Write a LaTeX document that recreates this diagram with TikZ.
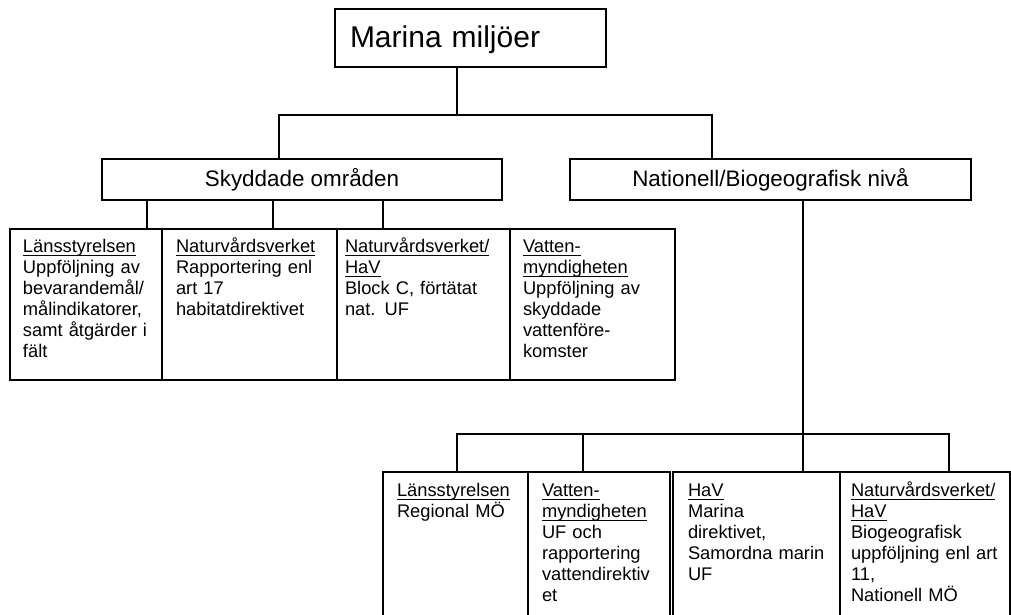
\documentclass[tikz,border=0pt]{standalone}
\usepackage{fontspec}
\setmainfont{Liberation Sans}
\usetikzlibrary{calc}
\newcommand{\boxline}{1.9pt}
\newcommand{\mainline}{2.8pt}
\newcommand{\linkline}{1.6pt}
\newcommand{\undl}[1]{\leavevmode\setbox0=\hbox{#1}\rlap{\rule[-3.5pt]{\wd0}{0.9pt}}\box0}

\begin{document}
\begin{tikzpicture}[x=1pt,y=-1pt,
  leaf/.style={draw, line width=\boxline, anchor=north west, align=left, outer sep=0pt, inner ysep=0pt, font=\fontsize{18.3pt}{21pt}\selectfont},
  level/.style={draw, line width=\mainline, outer sep=0pt, inner sep=0pt, minimum width=400pt, minimum height=41pt, font=\fontsize{22.4pt}{25pt}\selectfont}]
\useasboundingbox (0,0) rectangle (1011,614);
\clip (0,0) rectangle (1011,614);
%top
\node[draw, line width=\mainline, anchor=north west, outer sep=0pt, inner xsep=15pt, inner ysep=0pt, text width=241pt, align=left, text height=38pt, text depth=20pt, font=\fontsize{30pt}{33pt}\selectfont] (top) at (335,9) {Marina miljöer};
\node[level] (sky) at (302,179.5) {Skyddade områden};
\node[level, minimum width=401pt] (nat) at (770.5,179.5) {Nationell/Biogeografisk nivå};
%skyddade
\node[leaf, inner xsep=13pt, text width=126pt, text height=23pt, text depth=128pt] (s1) at (10,229) {\undl{Länsstyrelsen}\\Uppföljning av\\bevarandemål/\\målindikatorer,\\samt åtgärder i\\fält};
\node[leaf, inner xsep=14pt, text width=147pt, text height=23pt, text depth=128pt] (s2) at (162,229) {\undl{Naturvårdsverket}\\Rapportering enl\\art 17\\habitatdirektivet};
\node[leaf, inner xsep=8pt, text width=157pt, text height=23pt, text depth=128pt] (s3) at (337,229) {\undl{Naturvårdsverket/}\\\undl{HaV}\\Block C, förtätat\\nat. UF};
\node[leaf, inner xsep=13pt, text width=139pt, text height=23pt, text depth=128pt] (s4) at (510,229) {\undl{Vatten-}\\\undl{myndigheten}\\Uppföljning av\\skyddade\\vattenföre-\\komster};
%nationell
\node[leaf, inner xsep=14pt, text width=117pt, text height=24pt, text depth=134pt] (n1) at (383,472) {\undl{Länsstyrelsen}\\Regional MÖ};
\node[leaf, inner xsep=14pt, text width=114pt, text height=24pt, text depth=134pt] (n2) at (528,472) {\undl{Vatten-}\\\undl{myndigheten}\\UF och\\rapportering\\vattendirektiv\\et};
\node[leaf, inner xsep=15pt, text width=137pt, text height=24pt, text depth=134pt] (n3) at (673,472) {\undl{HaV}\\Marina\\direktivet,\\Samordna marin\\UF};
\node[leaf, inner xsep=11pt, text width=148pt, text height=24pt, text depth=134pt] (n4) at (840,472) {\undl{Naturvårdsverket/}\\\undl{HaV}\\Biogeografisk\\uppföljning enl art\\11,\\Nationell MÖ};
%links
\coordinate (j) at (457,115);
\coordinate (j1) at (279,115);
\coordinate (j2) at (712,115);
\draw[line width=\mainline] (top.south -| j) -- (j);
\draw[line width=\mainline] (sky.north -| j1) -- (j1) -- (j2) -- (nat.north -| j2);
\coordinate (d1) at (147,0);
\coordinate (d2) at (273,0);
\coordinate (d3) at (383,0);
\draw[line width=\linkline] (sky.south -| d1) -- (s1.north -| d1);
\draw[line width=\linkline] (sky.south -| d2) -- (s2.north -| d2);
\draw[line width=\linkline] (sky.south -| d3) -- (s3.north -| d3);
\coordinate (h) at (803,434);
\coordinate (e1) at (457,434);
\coordinate (e2) at (583,434);
\coordinate (e4) at (949,434);
\draw[line width=\linkline] (nat.south -| h) -- (n3.north -| h);
\draw[line width=\linkline] (n1.north -| e1) -- (e1) -- (e4) -- (n4.north -| e4);
\draw[line width=\linkline] (e2) -- (n2.north -| e2);
\end{tikzpicture}
\end{document}
